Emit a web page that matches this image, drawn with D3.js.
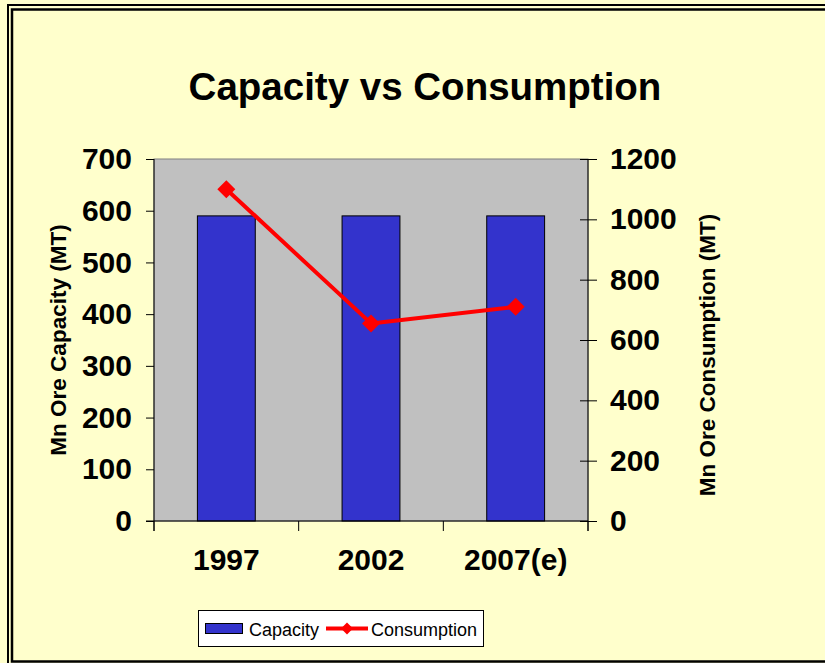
<!DOCTYPE html>
<html>
<head>
<meta charset="utf-8">
<script src="https://cdn.jsdelivr.net/npm/d3@7"></script>
<style>
  html, body { margin: 0; padding: 0; background: #FFFFCC; }
  svg { display: block; }
  text { font-family: "Liberation Sans", Arial, sans-serif; fill: #000; }
</style>
</head>
<body>
<svg id="chart" width="825" height="663"></svg>
<script>
const categories = ["1997", "2002", "2007(e)"];
const capacity = [590, 590, 590];
const consumption = [1100, 655, 710];
const leftTicks = [0, 100, 200, 300, 400, 500, 600, 700];
const rightTicks = [0, 200, 400, 600, 800, 1000, 1200];

const svg = d3.select("#chart");
const W = 825, H = 663;

// background
svg.append("rect").attr("width", W).attr("height", H).attr("fill", "#FFFFCC");
// double border
svg.append("rect").attr("x", 8).attr("y", 5).attr("width", 830).attr("height", 662)
  .attr("fill", "none").attr("stroke", "#000").attr("stroke-width", 2);
svg.append("rect").attr("x", 12).attr("y", 9.5).attr("width", 830).attr("height", 652)
  .attr("fill", "none").attr("stroke", "#000").attr("stroke-width", 2.5);

const plot = { left: 154, right: 588, top: 159, bottom: 521 };

const x = d3.scaleBand().domain(categories).range([plot.left, plot.right]).padding(0);
const yL = d3.scaleLinear().domain([0, 700]).range([plot.bottom, plot.top]);
const yR = d3.scaleLinear().domain([0, 1200]).range([plot.bottom, plot.top]);

// plot area
svg.append("rect")
  .attr("x", plot.left).attr("y", plot.top)
  .attr("width", plot.right - plot.left).attr("height", plot.bottom - plot.top)
  .attr("fill", "#C0C0C0").attr("stroke", "#808080").attr("stroke-width", 1);

// bars
const bw = x.bandwidth() * 0.4;
svg.append("g").selectAll("rect").data(categories).join("rect")
  .attr("x", (d) => x(d) + (x.bandwidth() - bw) / 2)
  .attr("y", (d, i) => yL(capacity[i]))
  .attr("width", bw)
  .attr("height", (d, i) => yL(0) - yL(capacity[i]))
  .attr("fill", "#3333CC").attr("stroke", "#000").attr("stroke-width", 1);

// axes
const axisFont = (g) => g.selectAll("text")
  .style("font-family", '"Liberation Sans", Arial, sans-serif')
  .style("font-weight", "bold").style("font-size", "30px").attr("fill", "#000");

const gL = svg.append("g").attr("transform", `translate(${plot.left},0)`)
  .call(d3.axisLeft(yL).tickValues(leftTicks).tickSize(8).tickPadding(14).tickFormat(d3.format("d")));
gL.call(axisFont);
gL.selectAll("line, path").attr("stroke", "#000").attr("stroke-width", 1);
gL.select("path").attr("d", `M0,${plot.top}V${plot.bottom + 10}`);

const gR = svg.append("g").attr("transform", `translate(${plot.right},0)`)
  .call(d3.axisRight(yR).tickValues(rightTicks).tickSize(9).tickPadding(13).tickFormat(d3.format("d")));
gR.call(axisFont);
gR.selectAll(".tick line").attr("x1", -8);
gR.selectAll("line, path").attr("stroke", "#000").attr("stroke-width", 1);
gR.select("path").attr("d", `M0,${plot.top}V${plot.bottom + 10}`);

const gB = svg.append("g").attr("transform", `translate(0,${plot.bottom})`)
  .call(d3.axisBottom(x).tickSize(0).tickPadding(28));
gB.call(axisFont);
gB.selectAll("text").attr("dy", "0.71em");
gB.select("path").attr("d", `M${plot.left - 8},0H${plot.right}`).attr("stroke", "#000");
// category boundary tick marks
const bounds = categories.map((d) => x(d)).concat([plot.right]);
gB.selectAll(".bt").data(bounds).join("line").attr("class", "bt")
  .attr("x1", (d) => d).attr("x2", (d) => d).attr("y1", 0).attr("y2", 10)
  .attr("stroke", "#000");

// consumption line
const line = d3.line()
  .x((d, i) => x(categories[i]) + x.bandwidth() / 2)
  .y((d) => yR(d));
svg.append("path").datum(consumption)
  .attr("d", line).attr("fill", "none").attr("stroke", "#FF0000")
  .attr("stroke-width", 4).attr("stroke-linejoin", "round");
const diamond = (s) => `M0,${-s}L${s},0L0,${s}L${-s},0Z`;
svg.append("g").selectAll("path").data(consumption).join("path")
  .attr("transform", (d, i) => `translate(${x(categories[i]) + x.bandwidth() / 2},${yR(d)})`)
  .attr("d", diamond(9)).attr("fill", "#FF0000");

// title
svg.append("text").attr("x", 425).attr("y", 100).attr("text-anchor", "middle")
  .style("font-weight", "bold").style("font-size", "38.5px")
  .text("Capacity vs Consumption");

// axis titles
svg.append("text").attr("transform", "translate(66,340) rotate(-90)")
  .attr("text-anchor", "middle").style("font-weight", "bold").style("font-size", "22.5px")
  .text("Mn Ore Capacity (MT)");
svg.append("text").attr("transform", "translate(715,355) rotate(-90)")
  .attr("text-anchor", "middle").style("font-weight", "bold").style("font-size", "22.5px")
  .text("Mn Ore Consumption (MT)");

// legend
const lg = svg.append("g");
lg.append("rect").attr("x", 198.5).attr("y", 610.5).attr("width", 285).attr("height", 36)
  .attr("fill", "#fff").attr("stroke", "#000").attr("stroke-width", 1);
lg.append("rect").attr("x", 205.5).attr("y", 623.5).attr("width", 37).attr("height", 10)
  .attr("fill", "#3333CC").attr("stroke", "#000").attr("stroke-width", 1);
lg.append("text").attr("x", 249).attr("y", 636).style("font-size", "18px").text("Capacity");
lg.append("line").attr("x1", 326).attr("x2", 368).attr("y1", 628.5).attr("y2", 628.5)
  .attr("stroke", "#FF0000").attr("stroke-width", 4);
lg.append("path").attr("transform", "translate(347,628.5)").attr("d", diamond(6)).attr("fill", "#FF0000");
lg.append("text").attr("x", 371).attr("y", 636).style("font-size", "18px").text("Consumption");
</script>
</body>
</html>
